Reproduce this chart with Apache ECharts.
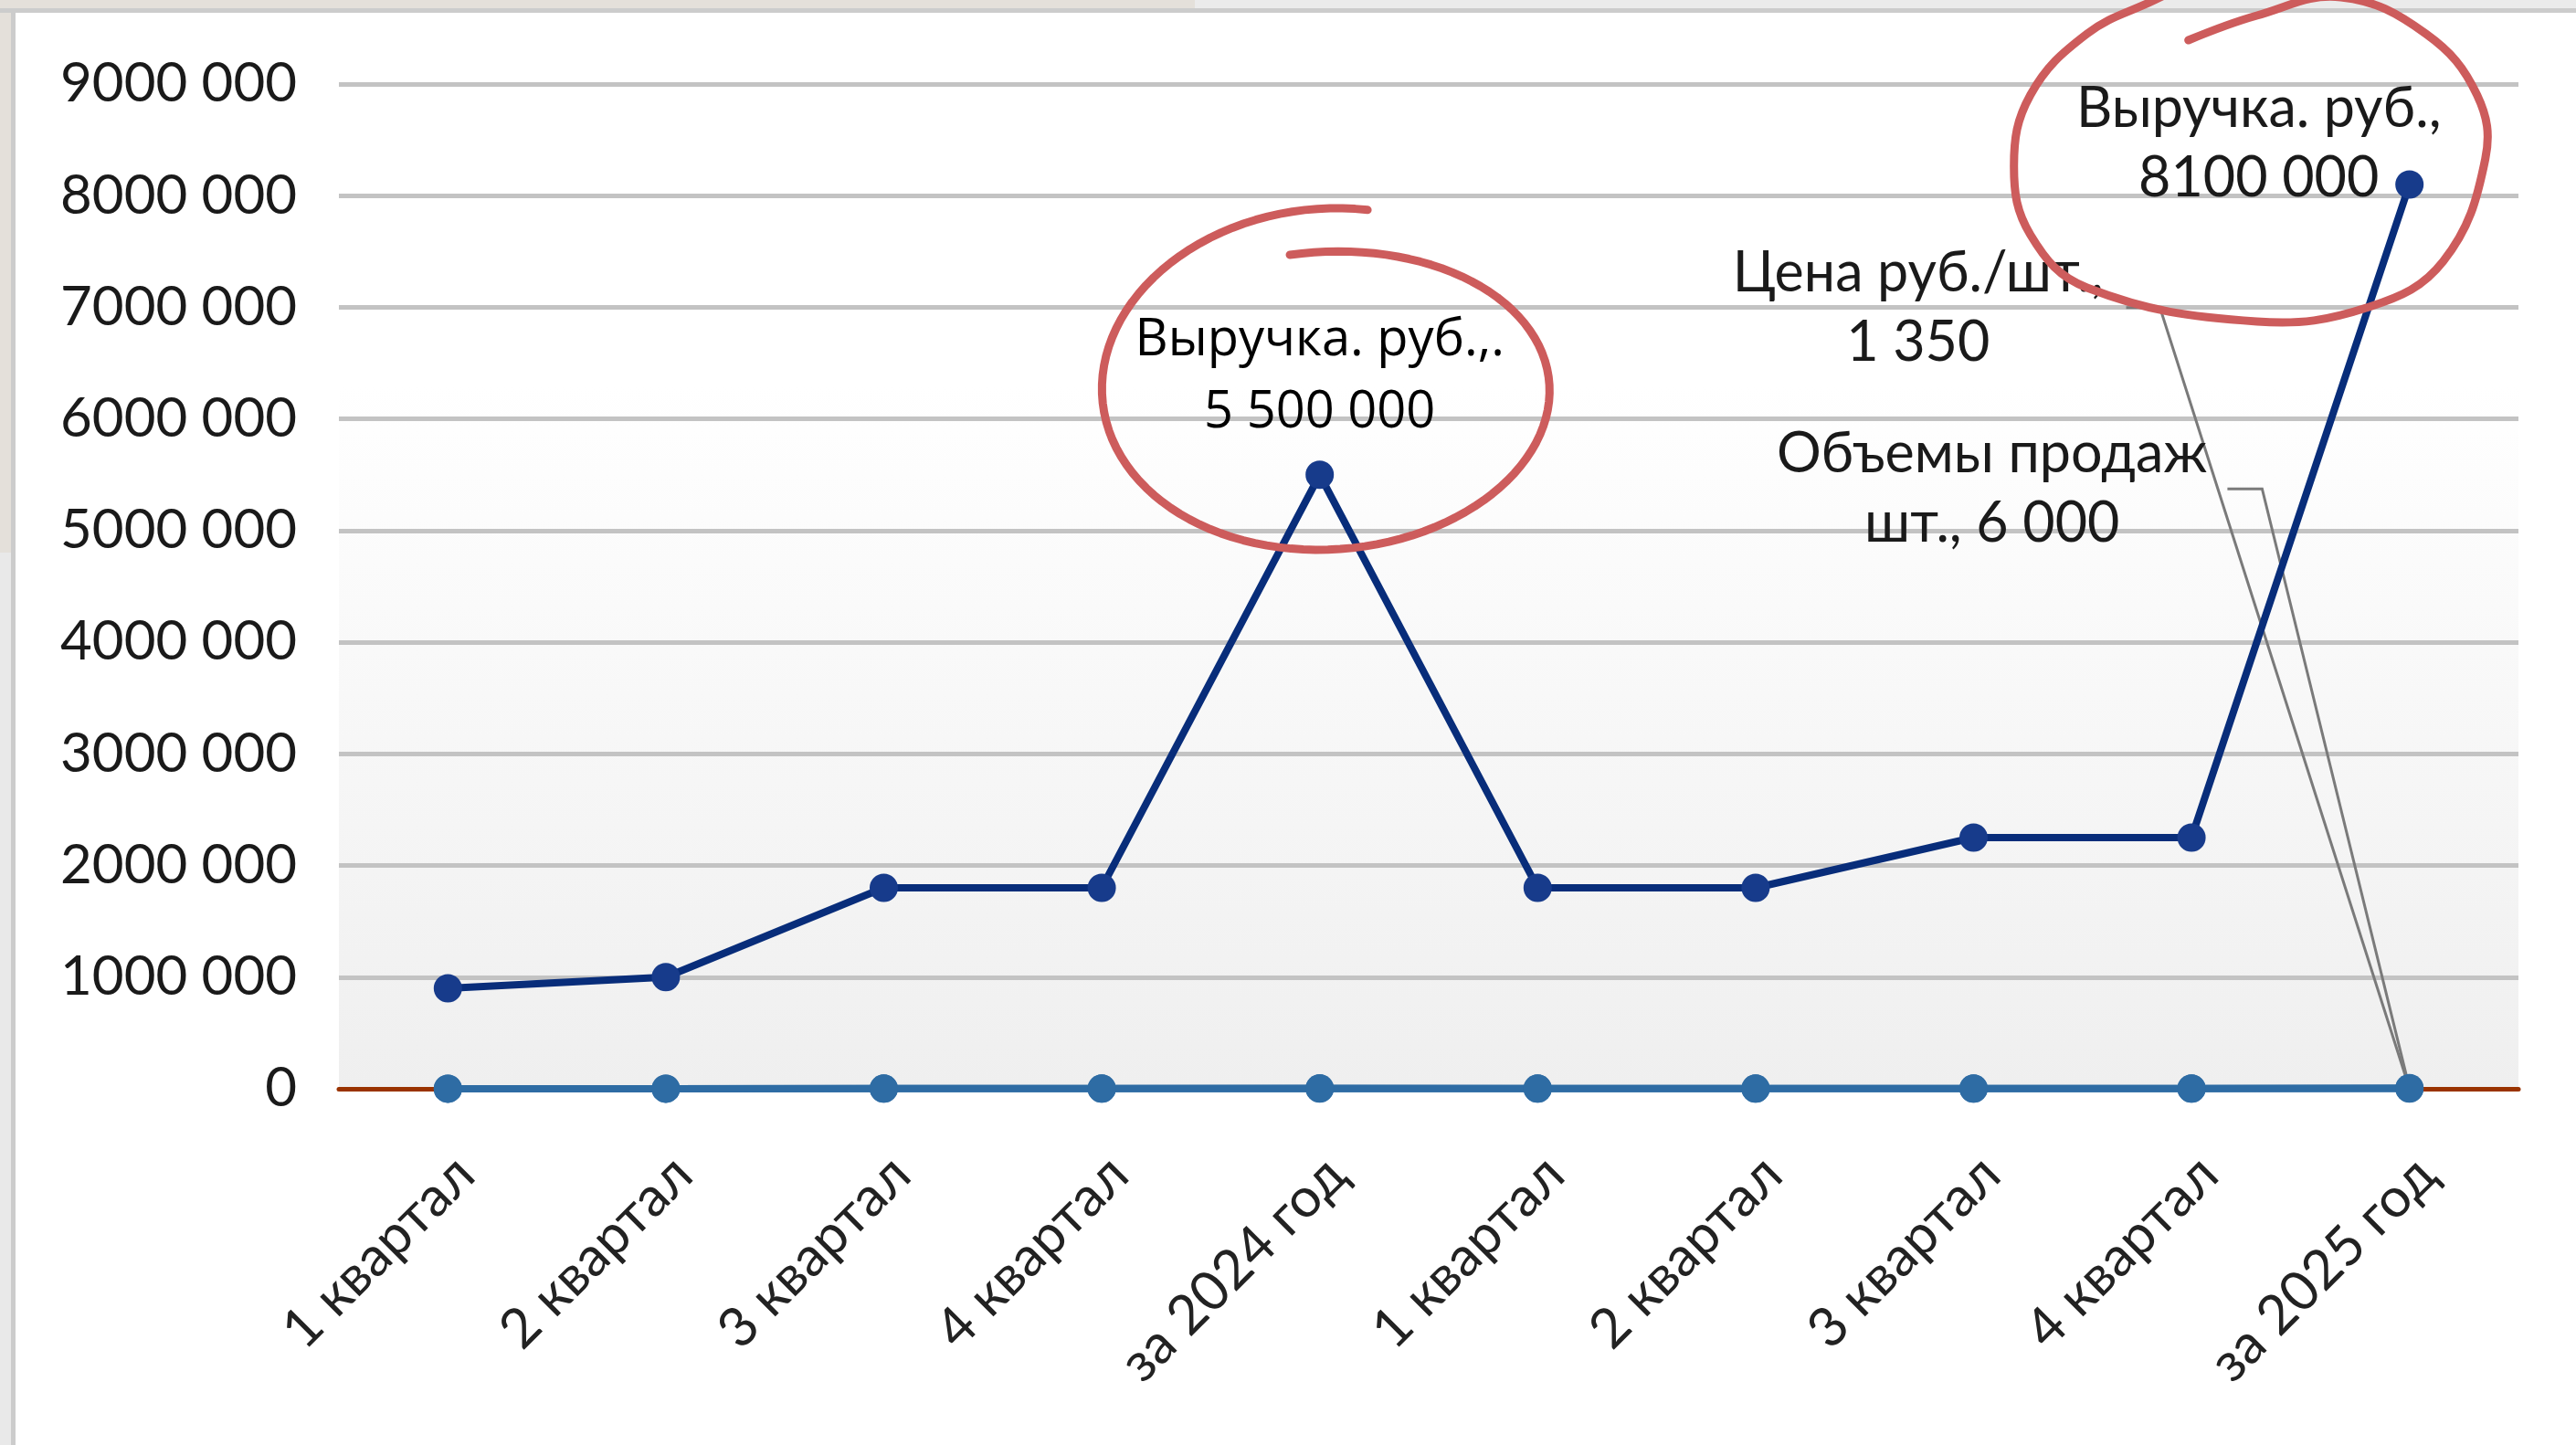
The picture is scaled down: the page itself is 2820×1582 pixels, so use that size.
<!DOCTYPE html>
<html>
<head>
<meta charset="utf-8">
<title>Выручка</title>
<script src="https://cdn.jsdelivr.net/npm/echarts@6/dist/echarts.min.js"></script>
<style>
  html, body { margin: 0; padding: 0; background: #fff; }
  #chart { width: 2820px; height: 1582px; }
</style>
</head>
<body>
<div id="chart"></div>
<script>
// categories and values
const categories = ['1 квартал', '2 квартал', '3 квартал', '4 квартал', 'за 2024 год',
  '1 квартал', '2 квартал', '3 квартал', '4 квартал', 'за 2025 год'];
const revenue = [900000, 1000000, 1800000, 1800000, 5500000, 1800000, 1800000, 2250000, 2250000, 8100000];
const price = [900, 1000, 1200, 1200, 1100, 1200, 1200, 1500, 1500, 1350];
const volume = [1000, 1000, 1500, 1500, 5000, 1500, 1500, 1500, 1500, 6000];
const yTickLabels = ['0', '1000 000', '2000 000', '3000 000', '4000 000', '5000 000',
  '6000 000', '7000 000', '8000 000', '9000 000'];
const seriesNames = ['Выручка. руб.', 'Цена руб./шт.', 'Объемы продаж шт.'];

const EXCEL_FONT = 'Lato, "Open Sans", sans-serif';

// "5 500 000"
const spaced = (v) => String(v).replace(/\B(?=(\d{3})+(?!\d))/g, ' ');
// "8100 000" (as the sheet shows it)
const excelNum = (v) => Math.floor(v / 1000) + ' ' + String(v % 1000).padStart(3, '0');

const chart = echarts.init(document.getElementById('chart'));

const revenueData = revenue.map((v, i) => {
  if (i === 4) {
    return {
      value: v,
      label: {
        show: true, position: 'top', distance: 13,
        fontFamily: '"Open Sans", "Noto Sans", sans-serif', fontSize: 56, lineHeight: 79,
        color: '#000', align: 'center',
        formatter: (p) => p.seriesName + ',.\n' + spaced(p.value)
      }
    };
  }
  if (i === revenue.length - 1) {
    return {
      value: v,
      label: {
        show: true, position: 'inside', offset: [-165, -45],
        fontFamily: EXCEL_FONT, fontSize: 61, lineHeight: 76,
        color: '#1a1a1a', align: 'center',
        formatter: (p) => p.seriesName + ',\n' + excelNum(p.value)
      }
    };
  }
  return v;
});

const lastLabel = (values, formatter, pad) => values.map((v, i) => i === values.length - 1 ? {
  value: v,
  label: {
    show: true, position: 'inside',
    fontFamily: EXCEL_FONT, fontSize: 61, lineHeight: 76,
    color: '#1a1a1a', align: 'center', padding: [0, pad, 0, pad],
    formatter
  }
} : v);

const priceData = lastLabel(price, (p) => p.seriesName + ',\n' + spaced(p.value), 25);
const volumeData = lastLabel(volume, (p) => p.seriesName.replace(' шт.', '\nшт.') + ', ' + spaced(p.value), 22);

const leader = {
  show: true,
  length2: 37,
  lineStyle: { color: '#7a7a7a', width: 3 }
};

chart.setOption({
  animation: false,
  backgroundColor: '#ffffff',
  grid: {
    left: 371, right: 63, top: 92, bottom: 390,
    show: true, borderWidth: 0,
    backgroundColor: {
      type: 'linear', x: 0, y: 0, x2: 0, y2: 1,
      colorStops: [
        { offset: 0, color: '#ffffff' },
        { offset: 0.3, color: '#ffffff' },
        { offset: 1, color: '#efefef' }
      ]
    }
  },
  xAxis: {
    type: 'category',
    data: categories,
    offset: 4,
    axisLine: { lineStyle: { color: '#9a3300', width: 5 } },
    axisTick: { show: false },
    axisLabel: {
      interval: 0, rotate: 45, margin: 20,
      align: 'right', verticalAlign: 'top', padding: [26, 29, 0, 0],
      fontFamily: EXCEL_FONT, fontSize: 60, color: '#222'
    }
  },
  yAxis: {
    type: 'value',
    min: 0, max: 9000000, interval: 1000000,
    axisLine: { show: false },
    axisTick: { show: false },
    splitLine: { lineStyle: { color: '#c3c3c3', width: 5 } },
    axisLabel: {
      margin: 46,
      fontFamily: EXCEL_FONT, fontSize: 60, color: '#1a1a1a',
      formatter: (v, i) => yTickLabels[i]
    }
  },
  series: [
    {
      name: seriesNames[1], type: 'line', data: priceData, z: 3,
      symbol: 'circle', symbolSize: 31,
      itemStyle: { color: '#2e6ca4' },
      lineStyle: { color: '#2e6ca4', width: 8 },
      labelLine: leader,
      labelLayout: (p) => p.dataIndex === price.length - 1 ? { dx: -538, dy: -855 } : {}
    },
    {
      name: seriesNames[2], type: 'line', data: volumeData, z: 3,
      symbol: 'circle', symbolSize: 31,
      itemStyle: { color: '#2e6ca4' },
      lineStyle: { color: '#2e6ca4', width: 8 },
      labelLine: Object.assign({}, leader, { length2: 38 }),
      labelLayout: (p) => p.dataIndex === volume.length - 1 ? { dx: -457, dy: -656 } : {}
    },
    {
      name: seriesNames[0], type: 'line', data: revenueData, z: 4,
      symbol: 'circle', symbolSize: 31,
      itemStyle: { color: '#173b8b' },
      lineStyle: { color: '#082d7a', width: 8 }
    }
  ]
});

// window frame of the screenshot
const frame = [
  { type: 'rect', shape: { x: 0, y: 0, width: 1308, height: 9 }, style: { fill: '#e4e0da' } },
  { type: 'rect', shape: { x: 1308, y: 0, width: 1512, height: 9 }, style: { fill: '#ebebeb' } },
  { type: 'rect', shape: { x: 0, y: 0, width: 12, height: 605 }, style: { fill: '#e4e0da' } },
  { type: 'rect', shape: { x: 0, y: 605, width: 12, height: 977 }, style: { fill: '#e9e9e9' } },
  { type: 'rect', shape: { x: 0, y: 9, width: 2820, height: 5 }, style: { fill: '#cccccc' } },
  { type: 'rect', shape: { x: 12, y: 9, width: 5, height: 1573 }, style: { fill: '#cccccc' } }
];

const PEN = { stroke: '#cd5c5c', lineWidth: 9, fill: null, lineCap: 'round', lineJoin: 'round' };

// elliptical spiral pen stroke around a revenue point (offsets in px from the point)
const spiralAround = (idx, s) => {
  const [px, py] = chart.convertToPixel({ seriesIndex: 2 }, [idx, revenue[idx]]);
  const pts = [];
  for (let k = 0; k <= 120; k++) {
    const t = k / 120;
    const a = (s.a0 + (s.a1 - s.a0) * t) * Math.PI / 180;
    const rx = s.rx0 + (s.rx1 - s.rx0) * t;
    const ry = s.ry0 + (s.ry1 - s.ry0) * t;
    pts.push([px + s.dx + rx * Math.cos(a), py + s.dy + ry * Math.sin(a)]);
  }
  return { type: 'polyline', z: 100, shape: { points: pts }, style: PEN };
};

// freehand pen stroke through offsets from a revenue point
const penAround = (idx, offsets) => {
  const [px, py] = chart.convertToPixel({ seriesIndex: 2 }, [idx, revenue[idx]]);
  return {
    type: 'polyline', z: 100,
    shape: { points: offsets.map(([dx, dy]) => [px + dx, py + dy]), smooth: 0.4 },
    style: PEN
  };
};

const pen2024 = { dx: 9, dy: -93, a0: -80, a1: -460, rx0: 250, rx1: 240, ry0: 200, ry1: 150 };
const pen2025 = [[-242, -158], [-167, -185], [-75, -205], [18, -165], [74, -98], [83, -28],
  [37, 84], [-44, 134], [-167, 150], [-353, 113], [-415, 55], [-433, -20], [-415, -98],
  [-353, -165], [-279, -202], [-220, -230]];

chart.setOption({
  graphic: frame.concat([spiralAround(4, pen2024), penAround(9, pen2025)])
});
</script>
</body>
</html>
